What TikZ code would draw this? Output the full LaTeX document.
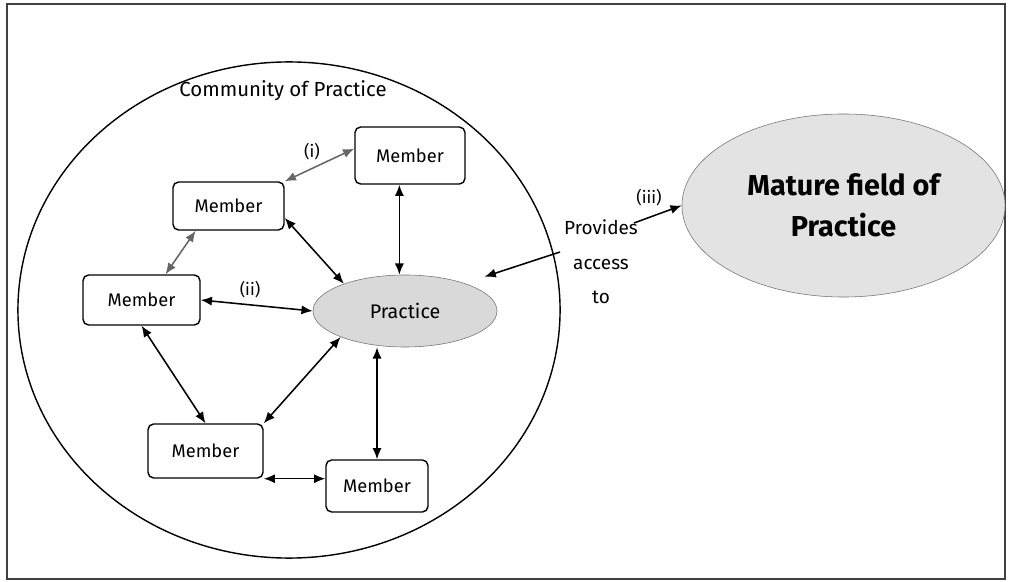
\documentclass[tikz,border=0pt]{standalone}
\usepackage{fontspec}
\setmainfont{Fira Sans}
\usetikzlibrary{shapes, arrows, arrows.meta, positioning}

\begin{document}
\begin{tikzpicture}[x=0.025cm, y=-0.025cm, >={Latex[length=8pt,width=6.5pt]},
	member/.style={draw, rounded corners=4pt, line width=1pt, inner sep=0pt, font=\fontsize{13}{15}\selectfont},
	link/.style={<->, line width=1.1pt},
	greylink/.style={<->, line width=1.1pt, black!60}]
	\useasboundingbox (0,0) rectangle (1010,582);
	\draw[line width=1.1pt, black!75] (7,4) rectangle (1005,579);
	% community circle
	\node[draw, ellipse, inner sep=0pt, line width=1pt, minimum width=13.55cm, minimum height=12.4cm] (com) at (289,310) {};
	\node[font=\fontsize{14.5}{17}\selectfont] (ctitle) at (283,91) {Community of Practice};
	% members and practice
	\node[member, minimum width=2.75cm, minimum height=1.425cm] (m1) at (410,155.5) {Member};
	\node[member, minimum width=2.775cm, minimum height=1.2cm] (m2) at (228.5,206) {Member};
	\node[member, minimum width=2.925cm, minimum height=1.25cm] (m3) at (141.5,300) {Member};
	\node[member, minimum width=2.875cm, minimum height=1.35cm] (m4) at (205.5,451) {Member};
	\node[member, minimum width=2.55cm, minimum height=1.3cm] (m5) at (377,486) {Member};
	\node[draw=black!55, fill=black!15, ellipse, inner sep=0pt, minimum width=4.6cm, minimum height=1.8cm, font=\fontsize{14}{16}\selectfont] (prac) at (405,311) {Practice};
	\node[draw=black!55, fill=black!11, ellipse, inner sep=0pt, minimum width=8.075cm, minimum height=4.575cm, align=center, font=\fontsize{20.5}{29}\selectfont\bfseries] (mat) at (843.5,205.5) {Mature field of\\Practice};
	% labels
	\node[font=\fontsize{12}{14}\selectfont] (li) at (312,152) {(i)};
	\node[font=\fontsize{12}{14}\selectfont] (lii) at (250,290) {(ii)};
	\node[font=\fontsize{12}{14}\selectfont] (liii) at (649,198) {(iii)};
	\node[align=center, font=\fontsize{13.5}{24.5}\selectfont] (prov) at (601,262) {Provides\\access\\to};
	\coordinate (pa) at (560,252);
	\coordinate (pb) at (634,223);
	% links
	\foreach \from/\to in {m2.north east/m1.173, m2.217/m3.47}
		\draw[greylink] (\from) -- (\to);
	\foreach \from/\to in {m2.-12/prac.156, m3.east/prac.west, m3.south/m4.north, m4.north east/prac.202}
		\draw[link] (\from) -- (\to);
	\draw[link] (m1.250) -- (m1.250 |- prac.north);
	\draw[link] (m5.north) -- (m5.north |- prac.south);
	\draw[link] (m4.south east) -- (m4.south east -| m5.west);
	\draw[->, line width=1.1pt, shorten >=15pt] (pa) -- (prac.25);
	\draw[->, line width=1.1pt] (pb) -- (mat.west);
\end{tikzpicture}
\end{document}
